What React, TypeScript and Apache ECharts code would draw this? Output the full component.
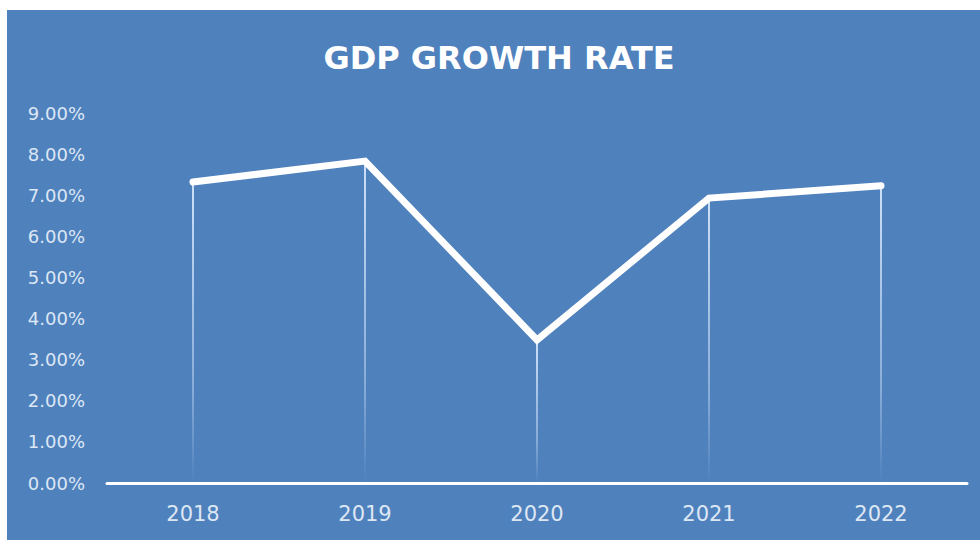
import React, { useEffect, useRef } from "react";
import * as echarts from "echarts";

const years = ["2018", "2019", "2020", "2021", "2022"];
const growthRate = [7.32, 7.83, 3.48, 6.93, 7.23];
const yTicks = { min: 0, max: 9, interval: 1 };
const titleText = "GDP GROWTH RATE";

export default function App() {
  const ref = useRef<HTMLDivElement>(null);
  useEffect(() => {
    if (!ref.current) return;
    const chart = echarts.init(ref.current, undefined, { renderer: "svg" });
    const labelColor = "#dde7f4";
    chart.setOption({
      animation: false,
      backgroundColor: "#ffffff",
      graphic: [
        {
          type: "rect",
          z: -10,
          silent: true,
          shape: { x: 7, y: 10, width: 973, height: 530 },
          style: { fill: "#4f81bd" },
        },
        {
          type: "text",
          x: 499,
          y: 58,
          style: {
            text: titleText,
            fill: "#ffffff",
            font: "bold 32px 'DejaVu Sans'",
            textAlign: "center",
            textVerticalAlign: "middle",
          },
        },
      ],
      grid: { left: 107, right: 13, top: 113, bottom: 57, containLabel: false },
      xAxis: {
        type: "category",
        data: years,
        boundaryGap: true,
        axisLine: { show: true, lineStyle: { color: "#ffffff", width: 3 } },
        axisTick: { show: false },
        axisLabel: {
          color: labelColor,
          fontFamily: "DejaVu Sans",
          fontSize: 21,
          margin: 20,
        },
      },
      yAxis: {
        type: "value",
        min: yTicks.min,
        max: yTicks.max,
        interval: yTicks.interval,
        axisLine: { show: false },
        axisTick: { show: false },
        splitLine: { show: false },
        axisLabel: {
          color: labelColor,
          fontFamily: "DejaVu Sans",
          fontSize: 18,
          margin: 22,
          formatter: (v: number) => v.toFixed(2) + "%",
        },
      },
      series: [
        {
          type: "bar",
          data: growthRate,
          barWidth: 2,
          silent: true,
          itemStyle: {
            color: new echarts.graphic.LinearGradient(0, 0, 0, 1, [
              { offset: 0, color: "rgba(220,235,255,0.9)" },
              { offset: 0.7, color: "rgba(220,235,255,0.4)" },
              { offset: 1, color: "rgba(220,235,255,0)" },
            ]),
          },
          z: 1,
        },
        {
          type: "line",
          data: growthRate,
          symbol: "none",
          lineStyle: { color: "#ffffff", width: 7, cap: "round", join: "miter" },
          z: 3,
        },
      ],
    });
    return () => chart.dispose();
  }, []);
  return (
    <div
      ref={ref}
      style={{ position: "fixed", left: 0, top: 0, width: 980, height: 540 }}
    />
  );
}
